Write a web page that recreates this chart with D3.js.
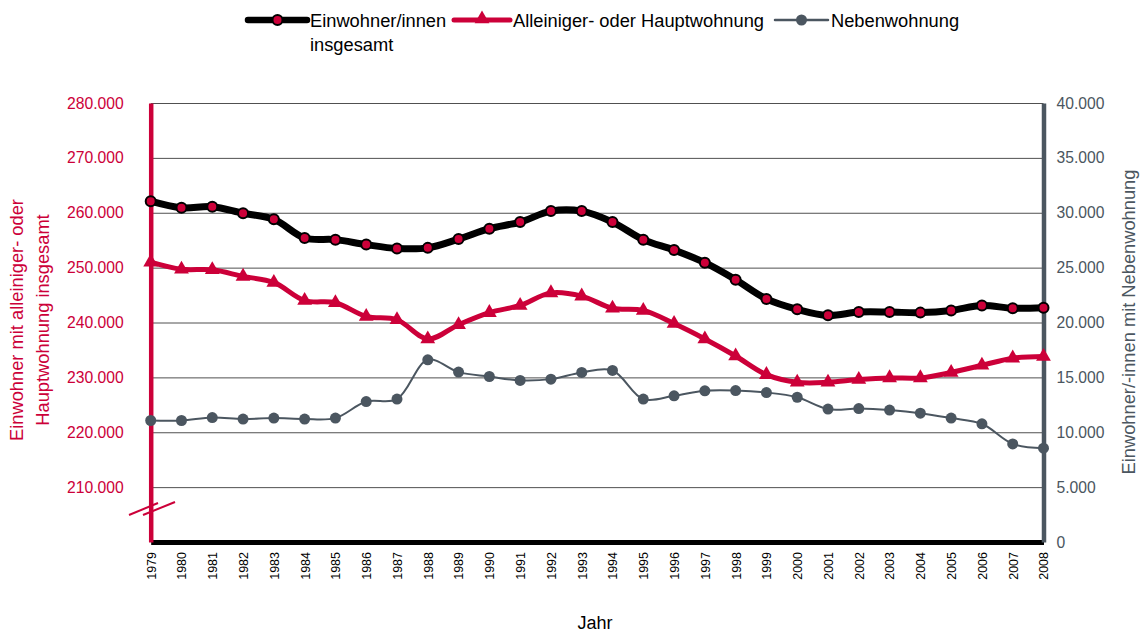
<!DOCTYPE html>
<html>
<head>
<meta charset="utf-8">
<script src="https://cdn.jsdelivr.net/npm/d3@7"></script>
<style>
  body { margin: 0; background: #fff; }
  svg { font-family: "Liberation Sans", Arial, sans-serif; }
</style>
</head>
<body>
<svg id="chart" width="1148" height="632"></svg>
<script>
// data
const years = d3.range(1979, 2009).map(String);
const total = [262100, 260900, 261100, 259900, 258800, 255400, 255100, 254200, 253500, 253600, 255200,
  257100, 258300, 260300, 260300, 258300, 255100, 253200, 250900, 247800, 244300,
  242400, 241300, 241900, 241900, 241800, 242200, 243100, 242600, 242700];
const mainRes = [251000, 249700, 249600, 248400, 247300, 244000, 243600, 241100, 240500, 237000, 239600,
  241800, 243100, 245400, 244800, 242600, 242200, 239800, 237000, 233900, 230500,
  229100, 229100, 229600, 229900, 229900, 230900, 232200, 233500, 233800];
const secondary = [11070, 11070, 11340, 11200, 11290, 11200, 11290, 12800, 13020, 16600, 15480,
  15080, 14720, 14840, 15450, 15630, 13020, 13320, 13780, 13800, 13620,
  13190, 12110, 12160, 12020, 11740, 11290, 10770, 8940, 8550];
const leftTicks = [210000, 220000, 230000, 240000, 250000, 260000, 270000, 280000];
const rightTicks = [0, 5000, 10000, 15000, 20000, 25000, 30000, 35000, 40000];
const legendLabels = [["Einwohner/innen", "insgesamt"], ["Alleiniger- oder Hauptwohnung"], ["Nebenwohnung"]];

const RED = "#cc0039", GREY = "#4b5660";
const de = d3.formatLocale({decimal: ",", thousands: ".", grouping: [3], currency: ["", " €"]});
const fmt = de.format(",");

const svg = d3.select("#chart");
const L = 150.7, R = 1043.5, T = 103, B = 542;

const x = d3.scalePoint().domain(years).range([L, R]);
const yL = d3.scaleLinear().domain([200000, 280000]).range([B, T]);
const yR = d3.scaleLinear().domain([0, 40000]).range([B, T]);

// grid
svg.append("g")
  .attr("transform", `translate(${L},0)`)
  .call(d3.axisLeft(yL).tickValues(leftTicks).tickSize(-(R - L)).tickFormat(""))
  .call(g => g.select(".domain").remove())
  .call(g => g.selectAll("line").attr("stroke", "#505050").attr("stroke-width", 1));

// bottom axis
svg.append("g")
  .attr("transform", `translate(0,${B})`)
  .call(d3.axisBottom(x).tickSize(0).tickSizeOuter(0))
  .call(g => g.select(".domain").attr("stroke", "#000").attr("stroke-width", 5))
  .call(g => g.selectAll("text")
    .attr("transform", "rotate(-90)")
    .attr("x", -10).attr("y", 0).attr("dy", "0.35em")
    .style("text-anchor", "end")
    .style("font-size", "12.5px")
    .attr("fill", "#000"));

// left axis
svg.append("g")
  .attr("transform", `translate(${L},0)`)
  .call(d3.axisLeft(yL).tickValues(leftTicks).tickSize(0).tickSizeOuter(0).tickPadding(27).tickFormat(fmt))
  .call(g => g.select(".domain").attr("stroke", RED).attr("stroke-width", 4.5))
  .call(g => g.selectAll("text").attr("fill", RED).style("font-size", "15.7px"));

// right axis
svg.append("g")
  .attr("transform", `translate(${R},0)`)
  .call(d3.axisRight(yR).tickValues(rightTicks).tickSize(0).tickSizeOuter(0).tickPadding(13).tickFormat(fmt))
  .call(g => g.select(".domain").attr("stroke", GREY).attr("stroke-width", 4.5))
  .call(g => g.selectAll("text").attr("fill", GREY).style("font-size", "15.7px"));

// axis break
svg.append("g").selectAll("line").data([[129, 515, 158, 503], [143, 515, 175, 502]])
  .enter().append("line")
  .attr("x1", d => d[0]).attr("y1", d => d[1]).attr("x2", d => d[2]).attr("y2", d => d[3])
  .attr("stroke", RED).attr("stroke-width", 2);

// axis titles
svg.append("text").attr("transform", "translate(23,320) rotate(-90)")
  .attr("text-anchor", "middle").attr("fill", RED).style("font-size", "18.3px")
  .text("Einwohner mit alleiniger- oder");
svg.append("text").attr("transform", "translate(49,320) rotate(-90)")
  .attr("text-anchor", "middle").attr("fill", RED).style("font-size", "18.3px")
  .text("Hauptwohnung insgesamt");
svg.append("text").attr("transform", "translate(1135,322) rotate(-90)")
  .attr("text-anchor", "middle").attr("fill", GREY).style("font-size", "18.3px")
  .text("Einwohner/-innen mit Nebenwohnung");
svg.append("text").attr("x", 595).attr("y", 629)
  .attr("text-anchor", "middle").attr("fill", "#000").style("font-size", "18px")
  .text("Jahr");

const curve = d3.curveCatmullRom.alpha(0.5);
const lineL = d3.line().curve(curve).x((d, i) => x(years[i])).y(d => yL(d));
const lineR = d3.line().curve(curve).x((d, i) => x(years[i])).y(d => yR(d));

// Nebenwohnung
svg.append("path").attr("d", lineR(secondary))
  .attr("fill", "none").attr("stroke", GREY).attr("stroke-width", 2);
svg.append("g").selectAll("circle").data(secondary).enter().append("circle")
  .attr("cx", (d, i) => x(years[i])).attr("cy", d => yR(d)).attr("r", 5.5).attr("fill", GREY);

// Hauptwohnung
svg.append("path").attr("d", lineL(mainRes))
  .attr("fill", "none").attr("stroke", RED).attr("stroke-width", 5);
const tri = d3.symbol().type(d3.symbolTriangle).size(95);
svg.append("g").selectAll("path").data(mainRes).enter().append("path")
  .attr("d", tri)
  .attr("transform", (d, i) => `translate(${x(years[i])},${yL(d)})`)
  .attr("fill", RED);

// insgesamt
svg.append("path").attr("d", lineL(total))
  .attr("fill", "none").attr("stroke", "#000").attr("stroke-width", 7);
svg.append("g").selectAll("circle").data(total).enter().append("circle")
  .attr("cx", (d, i) => x(years[i])).attr("cy", d => yL(d)).attr("r", 5)
  .attr("fill", RED).attr("stroke", "#000").attr("stroke-width", 2);

// legend
const lg = svg.append("g");
const items = [
  {x1: 248, x2: 307, color: "#000", w: 6.5, mark: "dot"},
  {x1: 454, x2: 510, color: RED, w: 5, mark: "tri"},
  {x1: 775, x2: 828, color: GREY, w: 2.5, mark: "grey"}
];
items.forEach((it, i) => {
  const cx = (it.x1 + it.x2) / 2, cy = 20;
  lg.append("line").attr("x1", it.x1).attr("x2", it.x2).attr("y1", cy).attr("y2", cy)
    .attr("stroke", it.color).attr("stroke-width", it.w).attr("stroke-linecap", "round");
  if (it.mark === "dot") {
    lg.append("circle").attr("cx", cx).attr("cy", cy).attr("r", 5)
      .attr("fill", RED).attr("stroke", "#000").attr("stroke-width", 2);
  } else if (it.mark === "tri") {
    lg.append("path").attr("d", tri).attr("transform", `translate(${cx},${cy - 1})`).attr("fill", RED);
  } else {
    lg.append("circle").attr("cx", cx).attr("cy", cy).attr("r", 5.5).attr("fill", GREY);
  }
  const t = lg.append("text").attr("x", it.x2 + 3).attr("y", 27).style("font-size", "18.3px").attr("fill", "#000");
  legendLabels[i].forEach((s, j) => t.append("tspan").attr("x", it.x2 + 3).attr("dy", j ? 24 : 0).text(s));
});
</script>
</body>
</html>
